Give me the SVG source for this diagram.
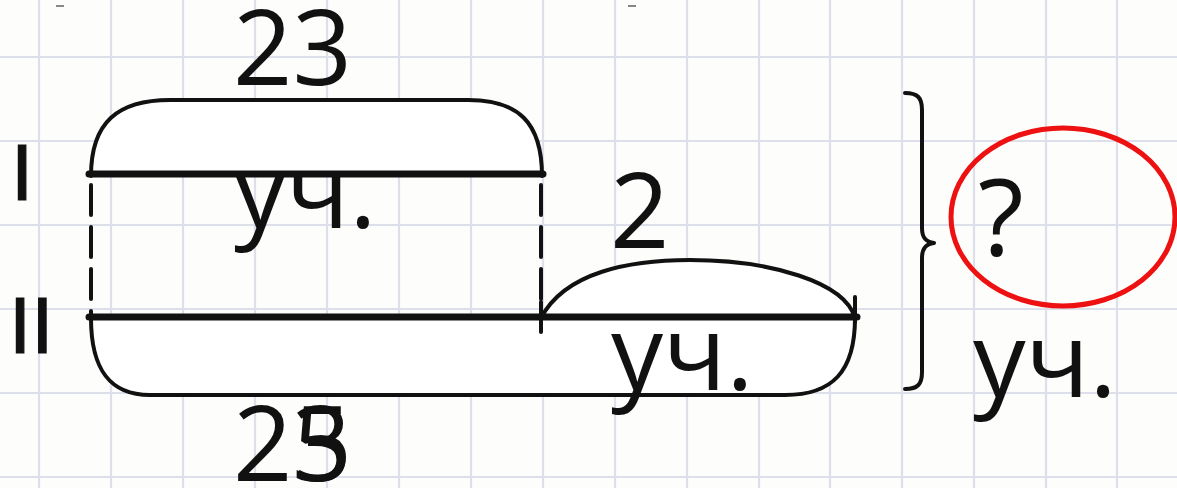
<svg xmlns="http://www.w3.org/2000/svg" width="1177" height="488" viewBox="0 0 1177 488">
<defs>
<style>
.grid line{stroke:#dde0ea;stroke-width:2.2}
.ink{fill:none;stroke:#111;stroke-linecap:round;stroke-linejoin:round}
.txt{font-family:"Open Sans","Noto Sans","DejaVu Sans",sans-serif;fill:#111}
.roman{font-family:"Liberation Sans",Arial,sans-serif;fill:#111;stroke:#111;stroke-width:1.2}
</style>
</defs>
<rect x="0" y="0" width="1177" height="488" fill="#fdfdfc"/>
<g class="grid">
<line x1="39" y1="0" x2="39" y2="488"/>
<line x1="111" y1="0" x2="111" y2="488"/>
<line x1="183" y1="0" x2="183" y2="488"/>
<line x1="255" y1="0" x2="255" y2="488"/>
<line x1="327" y1="0" x2="327" y2="488"/>
<line x1="399" y1="0" x2="399" y2="488"/>
<line x1="471" y1="0" x2="471" y2="488"/>
<line x1="543" y1="0" x2="543" y2="488"/>
<line x1="615" y1="0" x2="615" y2="488"/>
<line x1="687" y1="0" x2="687" y2="488"/>
<line x1="759" y1="0" x2="759" y2="488"/>
<line x1="830" y1="0" x2="830" y2="488"/>
<line x1="902" y1="0" x2="902" y2="488"/>
<line x1="974" y1="0" x2="974" y2="488"/>
<line x1="1046" y1="0" x2="1046" y2="488"/>
<line x1="1117" y1="0" x2="1117" y2="488"/>
<line x1="0" y1="57" x2="1177" y2="57"/>
<line x1="0" y1="141" x2="1177" y2="141"/>
<line x1="0" y1="225" x2="1177" y2="225"/>
<line x1="0" y1="309" x2="1177" y2="309"/>
<line x1="0" y1="393" x2="1177" y2="393"/>
<line x1="0" y1="477" x2="1177" y2="477"/>
</g>
<g id="marks">
<line x1="56" y1="6" x2="64" y2="6" stroke="#888" stroke-width="2"/>
<line x1="628" y1="6" x2="636" y2="6" stroke="#888" stroke-width="2"/>
</g>
<g id="brackets">
<path d="M91,176 C91,122 118,100 170,100 L468,100 C518,100 542,122 542,176 Z" fill="#fff" stroke="none"/>
<path d="M91,318 C91,370 110,395 150,395 L785,395 C832,395 855,372 855,318 Z" fill="#fff" stroke="none"/>
<path d="M541,318 C565,272 630,260 690,260 C770,260 845,282 855,318 Z" fill="#fff" stroke="none"/>
</g>
<g id="label-23"><text class="txt" x="233" y="85" font-size="104">23</text></g>
<g id="label-uch1"><text class="txt" x="234" y="228" font-size="104">уч.</text></g>
<g id="label-2"><text class="txt" x="610" y="248" font-size="104">2</text></g>
<g id="label-uch2"><text class="txt" x="611" y="390" font-size="104">уч.</text></g>
<g id="label-25"><text class="txt" x="233" y="481" font-size="104">25</text><text class="txt" x="292" y="481" font-size="104">3</text></g>
<g id="label-q"><text class="txt" x="978" y="256" font-size="106">?</text></g>
<g id="label-uch3"><text class="txt" x="973" y="397" font-size="105">уч.</text></g>
<g id="roman">
<text class="roman" x="11" y="200" font-size="80">I</text>
<text class="roman" x="9" y="353" font-size="80">II</text>
</g>
<g id="connectors">
<path class="ink" stroke-width="4" d="M91,176 C91,122 118,100 170,100 L468,100 C518,100 542,122 542,176"/>
<path class="ink" stroke-width="4" d="M91,318 C91,370 110,395 150,395 L785,395 C832,395 855,372 855,318"/>
<path class="ink" stroke-width="4" d="M541,318 C565,272 630,260 690,260 C770,260 845,282 855,318"/>
<line class="ink" stroke-width="7" stroke-linecap="butt" x1="89" y1="174" x2="543" y2="174"/>
<line class="ink" stroke-width="7" stroke-linecap="butt" x1="89" y1="317" x2="857" y2="317"/>
<line class="ink" stroke-width="4" stroke-linecap="butt" stroke-dasharray="30 12" x1="91" y1="185" x2="91" y2="317"/>
<line class="ink" stroke-width="4" stroke-linecap="butt" stroke-dasharray="30 12" x1="541" y1="185" x2="541" y2="317"/>
<line class="ink" stroke-width="4" x1="541" y1="302" x2="541" y2="332"/>
<line class="ink" stroke-width="4" x1="855" y1="297" x2="855" y2="322"/>
<path class="ink" stroke-width="4" d="M905,93 C918,93 922,98 922,110 L922,228 C922,238 926,242 934,243 C926,244 922,248 922,258 L922,372 C922,384 918,389 905,389"/>
<ellipse cx="1063" cy="217" rx="112" ry="89" fill="none" stroke="#ee1111" stroke-width="5"/>
</g>
</svg>
